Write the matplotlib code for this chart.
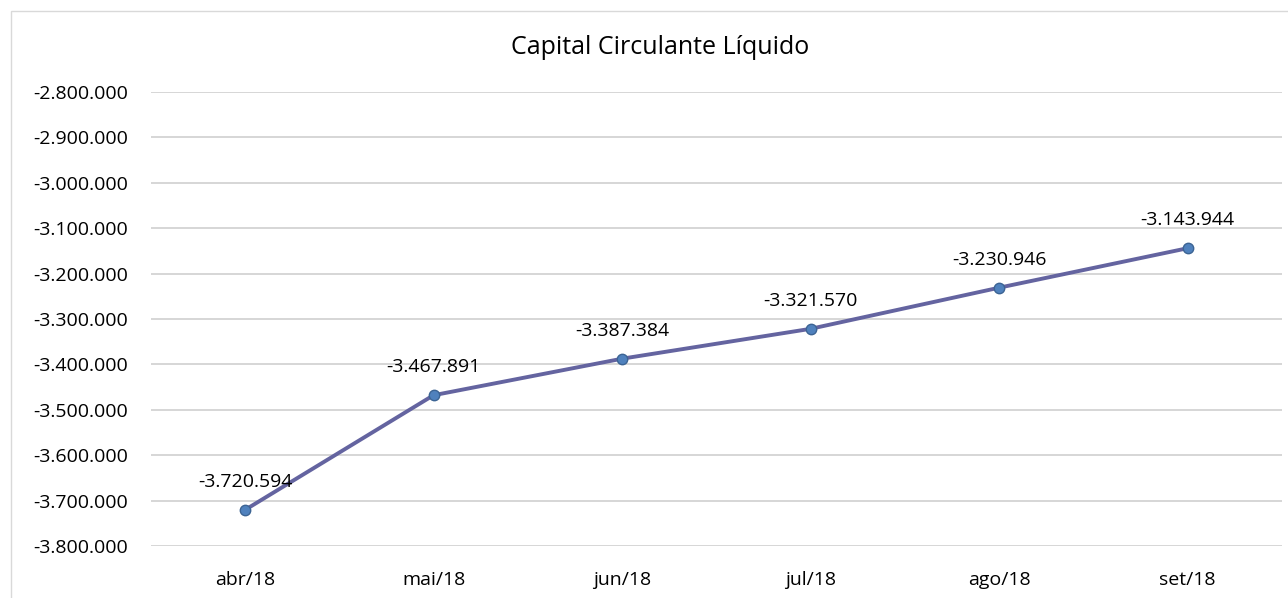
import numpy as np
import matplotlib
matplotlib.use('Agg')
import matplotlib.pyplot as plt
from matplotlib.patches import Rectangle
from matplotlib.ticker import FuncFormatter, MultipleLocator

months = ['abr/18', 'mai/18', 'jun/18', 'jul/18', 'ago/18', 'set/18']
values = [-3720594, -3467891, -3387384, -3321570, -3230946, -3143944]


def br_fmt(v, pos=None):
    s = '{:,.0f}'.format(v)
    return s.replace(',', '.')


plt.rcParams['font.family'] = ['Open Sans', 'DejaVu Sans']

fig = plt.figure(figsize=(12.88, 5.98), dpi=100)
ax = fig.add_axes([0.117, 0.087, 0.8783, 0.759])

# outer chart border
fig.patches.append(Rectangle((11 / 1288, -0.1), 1.2, 1 - 11 / 598 + 0.1,
                             transform=fig.transFigure, fill=False,
                             edgecolor='#d9d9d9', linewidth=1))

x = np.arange(len(months))
ax.plot(x, values, color='#6464a0', linewidth=2.8, zorder=3)
ax.plot(x, values, linestyle='none', marker='o', markersize=7.5,
        markerfacecolor='#4f81bd', markeredgecolor='#3c6494', zorder=4)

for xi, v in zip(x, values):
    ax.annotate(br_fmt(v), (xi, v), xytext=(0, 20), textcoords='offset points',
                ha='center', va='center', fontsize=14, color='black')

ax.set_xlim(-0.5, len(months) - 0.5)
ax.set_ylim(-3800000, -2800000)
ax.yaxis.set_major_locator(MultipleLocator(100000))
ax.yaxis.set_major_formatter(FuncFormatter(br_fmt))
ax.set_xticks(x)
ax.set_xticklabels(months)

ax.grid(axis='y', color='#d0d0d0', linewidth=1.2)
ax.set_axisbelow(True)
for s in ax.spines.values():
    s.set_visible(False)
ax.tick_params(axis='both', length=0, labelsize=14)
ax.tick_params(axis='y', pad=16)
ax.tick_params(axis='x', pad=18)

fig.text(660 / 1288, 1 - 48 / 598, 'Capital Circulante Líquido', ha='center',
         va='center', fontsize=18)

fig.savefig('out.png', dpi=100)
